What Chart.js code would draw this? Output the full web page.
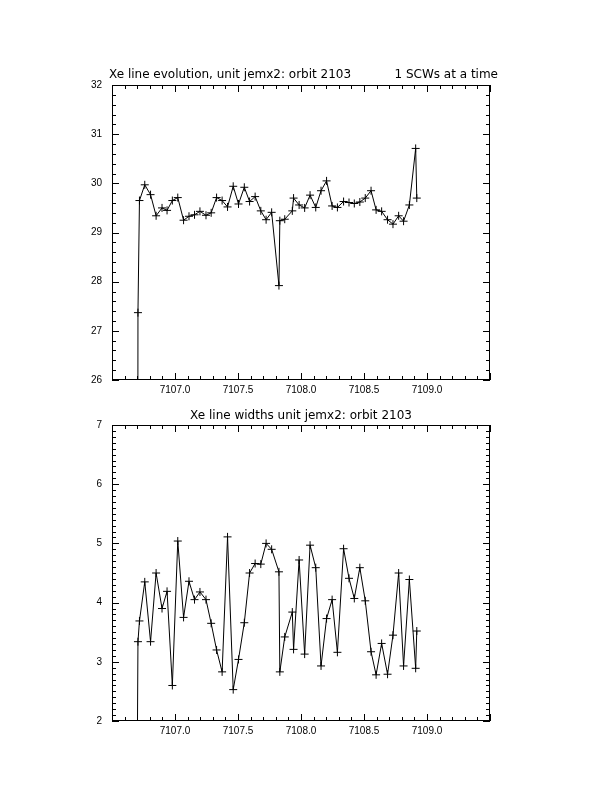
<!DOCTYPE html>
<html>
<head>
<meta charset="utf-8">
<script src="https://cdn.jsdelivr.net/npm/chart.js@4.4.1/dist/chart.umd.min.js"></script>
<style>
  body { margin: 0; background: #fff; }
  .painel { position: absolute; left: 0; width: 612px; }
</style>
</head>
<body>
<div class="painel" style="top:0;height:400px"><canvas id="graficoCentro" width="612" height="400"></canvas></div>
<div class="painel" style="top:400px;height:392px"><canvas id="graficoLargura" width="612" height="392"></canvas></div>
<script>
// time of each science window (first one is off scale, below both y ranges)
const tempos = [7106.697, 7106.706, 7106.718, 7106.760, 7106.806, 7106.850, 7106.897, 7106.937, 7106.979,
  7107.022, 7107.068, 7107.111, 7107.155, 7107.198, 7107.246, 7107.287, 7107.330, 7107.374, 7107.417,
  7107.462, 7107.504, 7107.550, 7107.592, 7107.636, 7107.681, 7107.723, 7107.767, 7107.825, 7107.832,
  7107.871, 7107.931, 7107.941, 7107.985, 7108.029, 7108.072, 7108.117, 7108.159, 7108.203, 7108.247,
  7108.289, 7108.338, 7108.381, 7108.423, 7108.467, 7108.510, 7108.556, 7108.596, 7108.640, 7108.687,
  7108.730, 7108.775, 7108.814, 7108.860, 7108.910, 7108.919];

const centroLinha = [0, 27.37, 29.65, 29.97, 29.77, 29.34, 29.50, 29.45, 29.65, 29.71, 29.25,
  29.33, 29.36, 29.43, 29.35, 29.40, 29.71, 29.65, 29.52, 29.94, 29.58,
  29.92, 29.63, 29.73, 29.44, 29.26, 29.41, 27.92, 29.24, 29.27, 29.44,
  29.70, 29.56, 29.50, 29.76, 29.51, 29.85, 30.05, 29.54, 29.51, 29.63,
  29.61, 29.59, 29.62, 29.70, 29.85, 29.46, 29.43, 29.26, 29.17, 29.34,
  29.23, 29.56, 30.71, 29.70];

const larguraLinha = [0, 3.34, 3.69, 4.35, 3.34, 4.50, 3.90, 4.19, 2.60, 5.04, 3.75,
  4.36, 4.05, 4.18, 4.05, 3.65, 3.20, 2.83, 5.11, 2.53, 3.04,
  3.66, 4.50, 4.66, 4.65, 5.00, 4.90, 4.52, 2.83, 3.42, 3.84,
  3.21, 4.72, 3.13, 4.97, 4.59, 2.93, 3.73, 4.05, 3.16, 4.91,
  4.41, 4.07, 4.59, 4.03, 3.17, 2.78, 3.31, 2.79, 3.45, 4.50,
  2.93, 4.39, 2.89, 3.52];

const ticksTempo = [7107.0, 7107.5, 7108.0, 7108.5, 7109.0];
const ticksCentro = [26, 27, 28, 29, 30, 31, 32];
const ticksLargura = [2, 3, 4, 5, 6, 7];

const fonteTicks = { family: 'Liberation Sans', size: 10 };

// IDL style box with inward ticks on all four sides
const eixosIdl = {
  id: 'eixosIdl',
  afterDraw(chart, args, opts) {
    const { ctx, chartArea: a, scales: { x, y } } = chart;
    ctx.save();
    ctx.strokeStyle = '#000';
    ctx.lineWidth = 1;
    ctx.strokeRect(a.left + 0.5, a.top + 0.5, a.right - a.left - 1, a.bottom - a.top - 1);
    ctx.beginPath();
    const passos = (min, max, menor, maior, desenha) => {
      const n = Math.round((max - min) / menor);
      for (let i = 0; i <= n; i++) {
        const v = min + i * menor;
        const r = v / maior;
        desenha(v, Math.abs(r - Math.round(r)) < 1e-6 ? 7 : 4);
      }
    };
    passos(x.min, x.max, opts.xMenor, opts.xMaior, (v, l) => {
      const px = Math.round(x.getPixelForValue(v)) + 0.5;
      ctx.moveTo(px, a.bottom); ctx.lineTo(px, a.bottom - l);
      ctx.moveTo(px, a.top); ctx.lineTo(px, a.top + l);
    });
    passos(y.min, y.max, opts.yMenor, opts.yMaior, (v, l) => {
      const py = Math.round(y.getPixelForValue(v)) + 0.5;
      ctx.moveTo(a.left, py); ctx.lineTo(a.left + l, py);
      ctx.moveTo(a.right, py); ctx.lineTo(a.right - l, py);
    });
    ctx.stroke();
    ctx.fillStyle = '#000';
    ctx.font = '12px "DejaVu Sans"';
    ctx.textBaseline = 'alphabetic';
    if (opts.tituloEsq) {
      ctx.textAlign = 'left';
      ctx.fillText(opts.tituloEsq, a.left - 3, a.top - 7);
    }
    if (opts.tituloDir) {
      ctx.textAlign = 'right';
      ctx.fillText(opts.tituloDir, a.right + 8, a.top - 7);
    }
    if (opts.tituloCentro) {
      ctx.textAlign = 'center';
      ctx.fillText(opts.tituloCentro, (a.left + a.right) / 2, a.top - 6);
    }
    ctx.restore();
  }
};

function criaGrafico(canvas, valores, ticksY, yMenor, padding, titulos) {
  return new Chart(canvas, {
    type: 'scatter',
    data: {
      datasets: [{
        data: tempos.map((t, i) => ({ x: t, y: valores[i] })),
        showLine: true,
        borderColor: '#000',
        borderWidth: 1,
        pointStyle: 'cross',
        pointRadius: 4,
        pointBorderWidth: 1,
        pointBorderColor: '#000',
        tension: 0
      }]
    },
    options: {
      responsive: false,
      animation: false,
      layout: { padding: padding },
      scales: {
        x: {
          type: 'linear',
          min: 7106.5,
          max: 7109.5,
          afterBuildTicks: s => { s.ticks = ticksTempo.map(v => ({ value: v })); },
          afterFit: s => { s.height = 20; },
          grid: { display: false, drawTicks: false },
          border: { display: false },
          ticks: { color: '#000', font: fonteTicks, padding: 4, maxRotation: 0, callback: v => v.toFixed(1) }
        },
        y: {
          type: 'linear',
          min: ticksY[0],
          max: ticksY[ticksY.length - 1],
          afterBuildTicks: s => { s.ticks = ticksY.map(v => ({ value: v })); },
          afterFit: s => { s.width = 30; },
          grid: { display: false, drawTicks: false },
          border: { display: false },
          ticks: { color: '#000', font: fonteTicks, padding: 10, callback: v => String(v) }
        }
      },
      plugins: {
        legend: { display: false },
        tooltip: { enabled: false },
        eixosIdl: Object.assign({ xMenor: 0.1, xMaior: 0.5, yMenor: yMenor, yMaior: 1 }, titulos)
      }
    },
    plugins: [eixosIdl]
  });
}

Chart.defaults.font.family = 'Liberation Sans';

criaGrafico(document.getElementById('graficoCentro'), centroLinha, ticksCentro, 0.2,
  { left: 82, right: 122, top: 85, bottom: 0 },
  { tituloEsq: 'Xe line evolution, unit jemx2: orbit 2103', tituloDir: '1 SCWs at a time' });

criaGrafico(document.getElementById('graficoLargura'), larguraLinha, ticksLargura, 0.1,
  { left: 82, right: 122, top: 25, bottom: 51 },
  { tituloCentro: 'Xe line widths unit jemx2: orbit 2103' });
</script>
</body>
</html>
